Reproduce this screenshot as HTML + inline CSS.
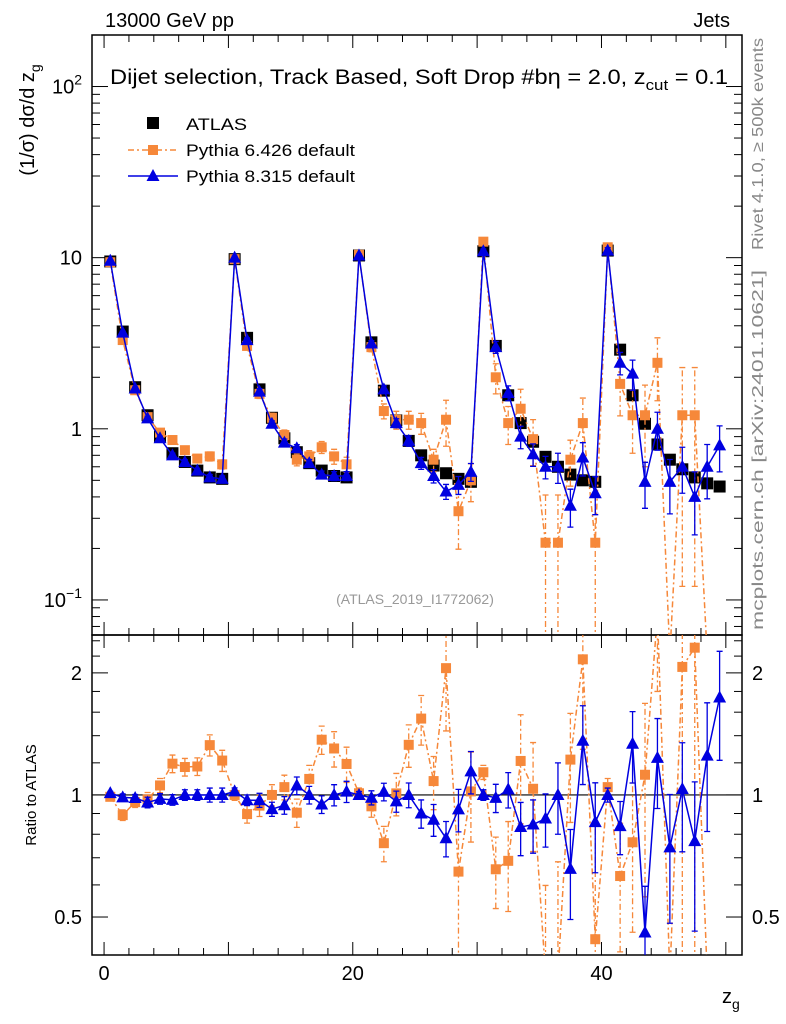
<!DOCTYPE html>
<html><head><meta charset="utf-8"><style>
html,body{margin:0;padding:0;background:#fff;width:786px;height:1024px;overflow:hidden;}
svg{display:block;font-family:"Liberation Sans",sans-serif;}
</style></head><body>
<svg id="c" width="786" height="1024" xmlns="http://www.w3.org/2000/svg">
<text x="105" y="27" font-size="20">13000 GeV pp</text>
<text x="730" y="27" font-size="20" text-anchor="end">Jets</text>
<text x="110" y="84" font-size="21" textLength="618" lengthAdjust="spacingAndGlyphs">Dijet selection, Track Based, Soft Drop #bη = 2.0, z<tspan font-size="15" dy="6">cut</tspan><tspan dy="-6"> = 0.1</tspan></text>
<text x="415" y="604" font-size="14" fill="#999" text-anchor="middle">(ATLAS_2019_I1772062)</text>
<text transform="translate(763,38) rotate(-90)" font-size="16" fill="#888" text-anchor="end" textLength="212" lengthAdjust="spacingAndGlyphs">Rivet 4.1.0, ≥ 500k events</text>
<text transform="translate(763,630) rotate(-90)" font-size="16" fill="#888" textLength="360" lengthAdjust="spacingAndGlyphs">mcplots.cern.ch [arXiv:2401.10621]</text>
<text transform="translate(34,120) rotate(-90)" font-size="20" text-anchor="middle">(1/σ) dσ/d z<tspan font-size="14" dy="6">g</tspan></text>
<text transform="translate(36,795) rotate(-90)" font-size="15" text-anchor="middle">Ratio to ATLAS</text>
<text x="722" y="1003" font-size="20">z<tspan font-size="14" dy="6">g</tspan></text>
<g id="g"></g>
</svg>
<script>
const bins=[0,1,2,3,4,5,6,7,8,9,10,11,12,13,14,15,16,17,18,19,20,21,22,23,24,25,26,27,28,29,30,31,32,33,34,35,36,37,38,39,40,41,42,43,44,45,46,47,48,49];
const atlas=[9.5,3.7,1.75,1.2,0.9,0.72,0.64,0.57,0.52,0.51, 9.8,3.4,1.7,1.16,0.88,0.73,0.63,0.57,0.53,0.52, 10.3,3.2,1.67,1.12,0.85,0.7,0.61,0.55,0.51,0.49, 10.9,3.05,1.57,1.08,0.84,0.686,0.6,0.54,0.5,0.49, 11,2.9,1.57,1.07,0.81,0.66,0.58,0.52,0.48,0.46];
const py6=[9.4,3.3,1.68,1.17,0.95,0.86,0.75,0.67,0.69,0.62, 9.8,3.05,1.6,1.16,0.92,0.66,0.69,0.78,0.69,0.62, 10.4,3.0,1.27,1.13,1.13,1.08,0.66,1.13,0.33,0.5, 12.4,2.0,1.08,1.31,0.87,0.216,0.216,0.66,1.08,0.216, 11.5,1.83,1.2,1.2,2.43,0.03,1.2,1.2,0.03,null];
const py6err=[0.02,0.03,0.03,0.04,0.04,0.05,0.05,0.05,0.06,0.06, 0.03,0.05,0.06,0.06,0.07,0.08,0.08,0.08,0.1,0.1, 0.03,0.06,0.1,0.12,0.12,0.14,0.15,0.3,0.4,0.25, 0.04,0.2,0.25,0.3,0.3,0.9,0.9,0.3,0.4,0.9, 0.05,0.35,0.4,0.5,0.4,0.9,0.9,0.9,0.9,0];
const py8=[9.6,3.65,1.72,1.15,0.88,0.7,0.64,0.57,0.52,0.51, 10.0,3.3,1.65,1.07,0.83,0.77,0.63,0.54,0.53,0.53, 10.3,3.15,1.7,1.08,0.85,0.63,0.53,0.43,0.47,0.56, 10.9,3.0,1.62,0.9,0.71,0.6,0.6,0.355,0.68,0.42, 11,2.43,2.1,0.49,1.0,0.49,0.6,0.4,0.6,0.8];
const py8err=[0.01,0.02,0.02,0.03,0.03,0.03,0.03,0.03,0.04,0.04, 0.02,0.03,0.04,0.04,0.05,0.05,0.05,0.05,0.06,0.06, 0.02,0.04,0.05,0.06,0.07,0.08,0.09,0.1,0.12,0.12, 0.03,0.08,0.1,0.15,0.15,0.15,0.2,0.25,0.22,0.25, 0.04,0.15,0.2,0.3,0.25,0.35,0.3,0.4,0.35,0.3];
const mainYTicks=[0.1,1,10,100];
const xTickLabels=[0,20,40];
const ratioTicks=[0.5,1,2];

const X0=92,X1=742,XMIN=-0.97,XMAX=51.3;
const MT=35,MB=635,RB=955;
const LMIN=Math.log10(0.0624),LMAX=Math.log10(200);
const RMIN=Math.log2(0.403),RMAX=Math.log2(2.48);
const sx=v=>X0+(v-XMIN)/(XMAX-XMIN)*(X1-X0);
const clamp=(y,a,b)=>Math.min(Math.max(y,a),b);
const sy=v=>clamp(MB-(Math.log10(v)-LMIN)/(LMAX-LMIN)*(MB-MT),MT-20,MB+20);
const ry=v=>clamp(RB-(Math.log2(v)-RMIN)/(RMAX-RMIN)*(RB-MB),MB-20,RB+20);
const g=document.getElementById('g');
const NS='http://www.w3.org/2000/svg';
function mk(t,a,p){const e=document.createElementNS(NS,t);for(const k in a)e.setAttribute(k,a[k]);(p||g).appendChild(e);return e;}
const clipM=mk('clipPath',{id:'cm'});mk('rect',{x:X0,y:MT,width:X1-X0,height:MB-MT},clipM);
const clipR=mk('clipPath',{id:'cr'});mk('rect',{x:X0,y:MB,width:X1-X0,height:RB-MB},clipR);

let f=mk('rect',{x:X0,y:MT,width:X1-X0,height:MB-MT,fill:'none',stroke:'#000','stroke-width':1.5});

f=mk('rect',{x:X0,y:MB,width:X1-X0,height:RB-MB,fill:'none',stroke:'#000','stroke-width':1.5});


for(let v=0;v<=50;v+=2){const x=sx(v);const L=(v%10===0)?13:7;
 [[MB,-1],[MT,1],[RB,-1],[MB,1]].forEach(([y,d])=>{const t=mk('line',{x1:x,x2:x,y1:y,y2:y+d*L,stroke:'#000'});});}
xTickLabels.forEach(v=>{const t=mk('text',{x:sx(v),y:RB+25,'font-size':20,'text-anchor':'middle'});t.textContent=v;});
for(let d=-2;d<=2;d++)for(let m=1;m<10;m++){const v=m*Math.pow(10,d);const lv=Math.log10(v);if(lv<LMIN||lv>LMAX)continue;const y=sy(v);const L=m===1?16:8;
 [[X0,1],[X1,-1]].forEach(([x,s])=>{const t=mk('line',{x1:x,x2:x+s*L,y1:y,y2:y,stroke:'#000'});});}
mainYTicks.forEach(v=>{const lv=Math.log10(v);if(lv<LMIN||lv>LMAX)return;const y=sy(v);const t=mk('text',{x:X0-10,y:y+7,'font-size':20,'text-anchor':'end'});
 if(v===1)t.textContent='1';else if(v===10)t.textContent='10';else{const e=Math.round(Math.log10(v));t.innerHTML='10<tspan dy="-9" font-size="14">'+(e<0?'−':'')+Math.abs(e)+'</tspan>';}
 });
[0.5,0.6,0.7,0.8,0.9,1,1.2,1.4,1.6,1.8,2,2.2,2.4].forEach(v=>{const y=ry(v);const L=ratioTicks.includes(v)?16:8;
 [[X0,1],[X1,-1]].forEach(([x,s])=>{const t=mk('line',{x1:x,x2:x+s*L,y1:y,y2:y,stroke:'#000'});});});
ratioTicks.forEach(v=>{[[X0-10,'end'],[X1+10,'start']].forEach(([x,a])=>{const t=mk('text',{x:x,y:ry(v)+7,'font-size':20,'text-anchor':a});t.textContent=v;});});
let ref=mk('line',{x1:X0,x2:X1,y1:ry(1),y2:ry(1),stroke:'#000','stroke-width':1.2});


function series(vals,errs,color,dash,marker,name){
 [['cm',sy],['cr',ry]].forEach(([cid,Y],pi)=>{
  const grp=mk('g',{'clip-path':'url(#'+cid+')'});
  
  const val=i=>{const v=vals[i];if(v==null)return null;return pi?v/atlas[i]:v;};
  let d='';bins.forEach(i=>{const v=val(i);if(v==null)return;d+=(d?'L':'M')+sx(i+0.5)+','+Y(v);});
  const ln=mk('path',{d:d,fill:'none',stroke:color,'stroke-width':1.5,'stroke-dasharray':dash},grp);
  
  bins.forEach(i=>{const v=val(i);if(v==null)return;const x=sx(i+0.5);const e=errs[i];
   const lo=Math.max(v*(1-e),1e-3),hi=v*(1+e);
   if(e>0){const eb=mk('path',{d:'M'+x+','+Y(lo)+'V'+Y(hi)+'M'+(x-3)+','+Y(hi)+'h6M'+(x-3)+','+Y(lo)+'h6',stroke:color,'stroke-width':1.3,'stroke-dasharray':dash,fill:'none'},grp);
    }
   const y=Y(v);let m;
   if(marker==='sq')m=mk('rect',{x:x-5,y:y-5,width:10,height:10,fill:color},grp);
   else m=mk('path',{d:'M'+x+','+(y-7)+'L'+(x+6.5)+','+(y+5)+'L'+(x-6.5)+','+(y+5)+'Z',fill:color},grp);
   });
 });
}
(function(){const grp=mk('g',{'clip-path':'url(#cm)'});
 bins.forEach(i=>{const m=mk('rect',{x:sx(i+0.5)-6,y:sy(atlas[i])-6,width:12,height:12,fill:'#000'},grp);});})();
series(py6,py6err,'#f6883a','6,3,2,3','sq','pythia6');
series(py8,py8err,'#0000e0','','tri','pythia8');

const lg=mk('g',{});
let r=mk('rect',{x:147,y:117,width:12,height:12,fill:'#000'},lg);
let t=mk('text',{x:186,y:130,'font-size':17,textLength:'61',lengthAdjust:'spacingAndGlyphs'},lg);t.textContent='ATLAS';
let l=mk('line',{x1:128,x2:178,y1:150,y2:150,stroke:'#f6883a','stroke-width':1.5,'stroke-dasharray':'6,3,2,3'},lg);
r=mk('rect',{x:148,y:145,width:10,height:10,fill:'#f6883a'},lg);
t=mk('text',{x:186,y:156,'font-size':17,textLength:'169',lengthAdjust:'spacingAndGlyphs'},lg);t.textContent='Pythia 6.426 default';
l=mk('line',{x1:128,x2:178,y1:176,y2:176,stroke:'#0000e0','stroke-width':1.5},lg);
r=mk('path',{d:'M153,169L159.5,181L146.5,181Z',fill:'#0000e0'},lg);
t=mk('text',{x:186,y:182,'font-size':17,textLength:'169',lengthAdjust:'spacingAndGlyphs'},lg);t.textContent='Pythia 8.315 default';
</script>
</body></html>
